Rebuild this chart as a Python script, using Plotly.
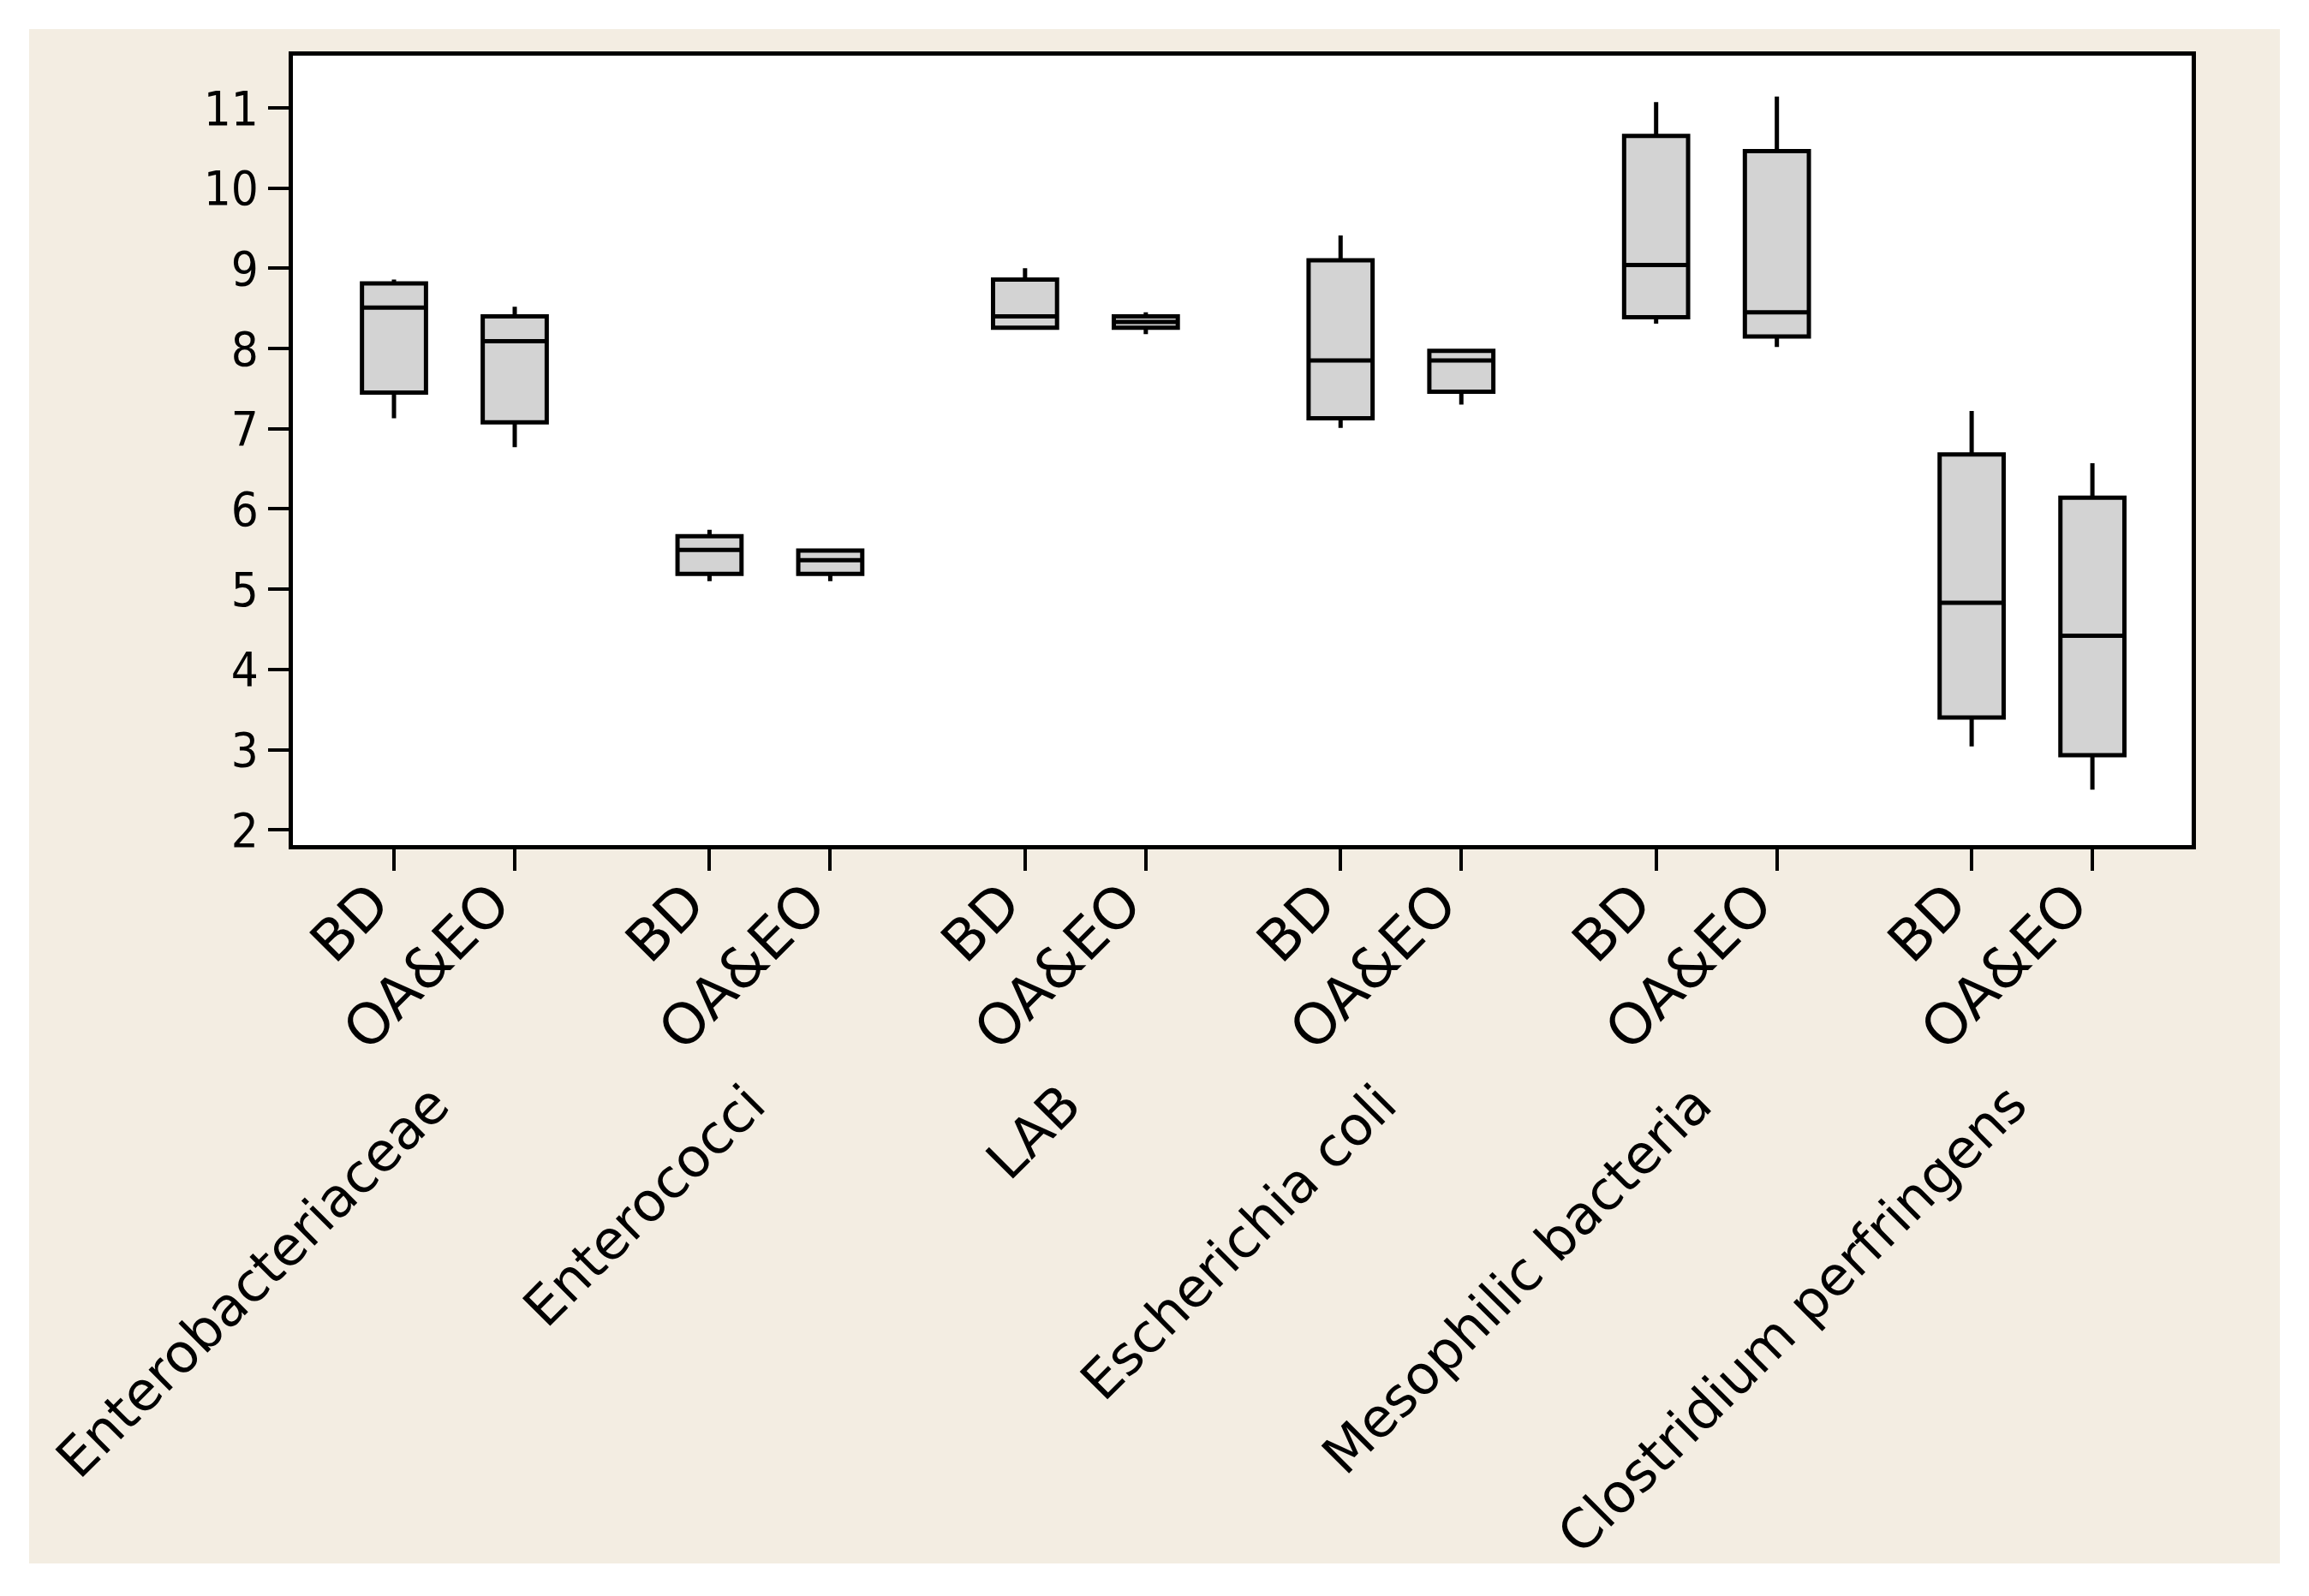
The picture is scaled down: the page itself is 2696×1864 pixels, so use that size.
import plotly.graph_objects as go

groups = ["Enterobacteriaceae", "Enterococci", "LAB", "Escherichia coli",
          "Mesophilic bacteria", "Clostridium perfringens"]
treatments = ["BD", "OA&EO"]

bd_low = [7.13, 5.10, 8.25, 7.01, 8.31, 3.04]
bd_q1 = [7.45, 5.19, 8.26, 7.13, 8.39, 3.40]
bd_med = [8.51, 5.49, 8.40, 7.85, 9.04, 4.83]
bd_q3 = [8.81, 5.66, 8.86, 9.10, 10.65, 6.68]
bd_high = [8.86, 5.74, 9.00, 9.41, 11.07, 7.22]

oa_low = [6.77, 5.10, 8.18, 7.30, 8.02, 2.50]
oa_q1 = [7.08, 5.19, 8.26, 7.46, 8.15, 2.93]
oa_med = [8.09, 5.36, 8.33, 7.85, 8.45, 4.42]
oa_q3 = [8.40, 5.48, 8.40, 7.97, 10.46, 6.14]
oa_high = [8.52, 5.48, 8.45, 7.99, 11.14, 6.57]

y_ticks = [2, 3, 4, 5, 6, 7, 8, 9, 10, 11]

GROUP_STEP = 2.613
stats = {"BD": (bd_low, bd_q1, bd_med, bd_q3, bd_high),
         "OA&EO": (oa_low, oa_q1, oa_med, oa_q3, oa_high)}

fig = go.Figure()
tickvals, ticktext, centers = [], [], []
for g, name in enumerate(groups):
    base = g * GROUP_STEP
    centers.append(base + 0.5)
    for t, tr in enumerate(treatments):
        xpos = base + t
        lo, q1, med, q3, hi = (s[g] for s in stats[tr])
        tickvals.append(xpos)
        ticktext.append(tr)
        fig.add_trace(go.Box(
            x=[xpos], lowerfence=[lo], q1=[q1], median=[med], q3=[q3],
            upperfence=[hi], width=0.53, whiskerwidth=0,
            fillcolor="#d3d3d3", line=dict(color="black", width=5),
            boxpoints=False, name=f"{name} {tr}", showlegend=False,
            hoverinfo="skip"))

W, H = 2696, 1864
L, R, T, B = 342, 2559, 65, 987
pw, ph = R - L, B - T

shapes = [
    dict(type="rect", xref="paper", yref="paper",
         x0=(34 - L) / pw, x1=(2662 - L) / pw,
         y0=(B - 1826) / ph, y1=(B - 34) / ph,
         fillcolor="#f3ede2", line=dict(width=0), layer="below"),
    dict(type="rect", xref="paper", yref="paper", x0=0, x1=1, y0=0, y1=1,
         fillcolor="white", line=dict(width=0), layer="below"),
]

annotations = []
for c, name in zip(centers, groups):
    annotations.append(dict(
        x=c, xref="x", y=(B - 1250) / ph, yref="paper", xshift=11,
        text=name, showarrow=False, textangle=-45,
        xanchor="right", yanchor="top",
        font=dict(family="DejaVu Sans", size=63, color="black")))

fig.update_layout(
    width=W, height=H, autosize=False,
    margin=dict(l=L, r=W - R, t=T, b=H - B),
    paper_bgcolor="white", plot_bgcolor="white",
    shapes=shapes, annotations=annotations,
    showlegend=False,
)
fig.update_xaxes(
    range=[-0.837, 14.887], tickvals=tickvals, ticktext=ticktext,
    tickangle=-45, ticks="outside", ticklen=25, tickwidth=4, tickcolor="black",
    ticklabelshift=-25, ticklabelstandoff=-27,
    showline=True, linewidth=5, linecolor="black", mirror=True,
    showgrid=False, zeroline=False,
    tickfont=dict(family="DejaVu Sans", size=66, color="black"))
fig.update_yaxes(
    range=[1.81, 11.65], tickvals=y_ticks,
    ticks="outside", ticklen=24, tickwidth=4, tickcolor="black",
    showline=True, linewidth=5, linecolor="black", mirror=True,
    showgrid=False, zeroline=False,
    tickfont=dict(family="Liberation Sans Narrow, DejaVu Sans Condensed, DejaVu Sans",
                  size=56, color="black"))

fig.write_html("out.html", config={"displayModeBar": False},
               post_script="document.body.style.margin='0px';"
                           "document.body.style.overflow='hidden';")
